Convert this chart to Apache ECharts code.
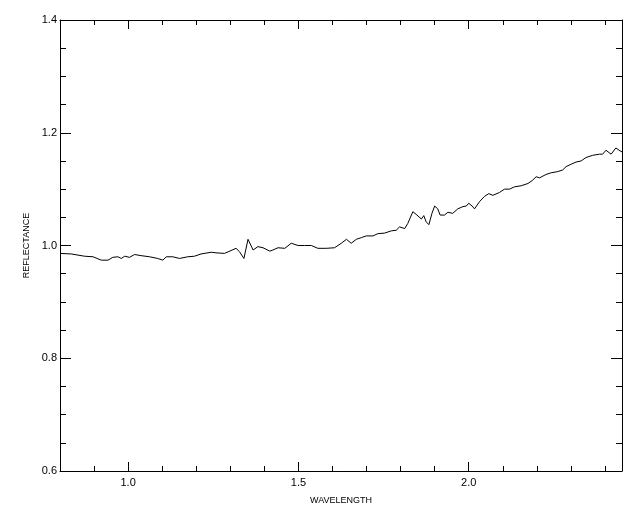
<!DOCTYPE html>
<html>
<head>
<meta charset="utf-8">
<script src="https://cdn.jsdelivr.net/npm/echarts@6/dist/echarts.min.js"></script>
<style>html,body{margin:0;padding:0;background:#fff}#c{width:640px;height:512px}</style>
</head>
<body>
<div id="c"></div>
<script>
var wavelength = [0.80,0.804,0.833,0.872,0.897,0.921,0.941,0.955,0.970,0.980,0.990,1.004,1.019,1.038,1.063,1.087,1.102,1.112,1.131,1.151,1.175,1.195,1.214,1.244,1.258,1.283,1.302,1.317,1.327,1.340,1.352,1.367,1.381,1.396,1.416,1.425,1.440,1.460,1.479,1.499,1.518,1.538,1.557,1.582,1.606,1.626,1.641,1.655,1.670,1.685,1.699,1.719,1.733,1.753,1.773,1.787,1.797,1.812,1.821,1.836,1.848,1.861,1.868,1.875,1.883,1.892,1.900,1.909,1.916,1.929,1.939,1.953,1.968,1.983,1.993,2.000,2.010,2.017,2.032,2.046,2.059,2.071,2.090,2.105,2.120,2.134,2.154,2.174,2.188,2.198,2.208,2.227,2.242,2.261,2.276,2.286,2.300,2.315,2.330,2.344,2.364,2.384,2.393,2.403,2.418,2.432,2.444,2.45];
var reflectance = [0.986,0.986,0.985,0.981,0.980,0.974,0.974,0.979,0.980,0.977,0.981,0.979,0.984,0.982,0.980,0.977,0.974,0.980,0.980,0.977,0.980,0.981,0.985,0.988,0.987,0.986,0.991,0.995,0.989,0.977,1.011,0.992,0.998,0.996,0.990,0.992,0.996,0.995,1.004,1.000,1.000,1.000,0.995,0.995,0.996,1.004,1.011,1.004,1.011,1.014,1.017,1.017,1.021,1.022,1.026,1.027,1.033,1.030,1.039,1.060,1.054,1.047,1.053,1.042,1.037,1.057,1.070,1.065,1.054,1.054,1.059,1.057,1.065,1.069,1.070,1.075,1.070,1.065,1.078,1.087,1.092,1.089,1.094,1.100,1.100,1.104,1.106,1.110,1.116,1.122,1.120,1.126,1.129,1.131,1.134,1.140,1.144,1.148,1.150,1.156,1.160,1.162,1.162,1.169,1.162,1.173,1.168,1.166];
var xMajorTicks = [1.0, 1.5, 2.0];
var xMinorTicks = [0.9, 1.1, 1.2, 1.3, 1.4, 1.6, 1.7, 1.8, 1.9, 2.1, 2.2, 2.3, 2.4];
var yMajorTicks = [0.6, 0.8, 1.0, 1.2, 1.4];
var yMinorTicks = [0.65,0.7,0.75,0.85,0.9,0.95,1.05,1.1,1.15,1.25,1.3,1.35];

var FONT = '"Liberation Sans", Arial, sans-serif';
var lineSt = {color:'#000', width:1};
function xAx(pos, ticks, len, labels, showLine, name) {
  return {
    type:'value', position:pos, min:0.8, max:2.45,
    axisLine:{show:showLine, lineStyle:lineSt},
    axisTick:{show:true, inside:true, length:len, customValues:ticks, lineStyle:lineSt},
    axisLabel: labels ? {show:true, customValues:ticks, formatter:function(v){return v.toFixed(1);}, color:'#000', fontSize:11, fontFamily:FONT, margin:6} : {show:false},
    splitLine:{show:false},
    name: name || '', nameLocation:'middle', nameGap:25,
    nameTextStyle:{color:'#000', fontSize:9, fontFamily:FONT}
  };
}
function yAx(pos, ticks, len, labels, showLine, name) {
  return {
    type:'value', position:pos, min:0.6, max:1.4,
    axisLine:{show:showLine, lineStyle:lineSt},
    axisTick:{show:true, inside:true, length:len, customValues:ticks, lineStyle:lineSt},
    axisLabel: labels ? {show:true, customValues:ticks, formatter:function(v){return v.toFixed(1);}, color:'#000', fontSize:11, fontFamily:FONT, margin:3} : {show:false},
    splitLine:{show:false},
    name: name || '', nameLocation:'middle', nameGap:24, nameRotate:90,
    nameTextStyle:{color:'#000', fontSize:9, fontFamily:FONT}
  };
}
var data = wavelength.map(function(w,i){return [w, reflectance[i]];});
var chart = echarts.init(document.getElementById('c'), null, {renderer:'canvas'});
chart.setOption({
  animation:false,
  backgroundColor:'#fff',
  grid:{left:60, right:18, top:20, bottom:41, containLabel:false},
  xAxis:[
    xAx('bottom', xMajorTicks, 9, true, true, 'WAVELENGTH'),
    xAx('bottom', xMinorTicks, 5, false, false),
    xAx('top', xMajorTicks, 9, false, true),
    xAx('top', xMinorTicks, 5, false, false)
  ],
  yAxis:[
    yAx('left', yMajorTicks, 11, true, true, 'REFLECTANCE'),
    yAx('left', yMinorTicks, 6, false, false),
    yAx('right', yMajorTicks, 11, false, true),
    yAx('right', yMinorTicks, 6, false, false)
  ],
  series:[{
    type:'line', xAxisIndex:0, yAxisIndex:0, data:data,
    showSymbol:false, symbol:'none',
    lineStyle:{color:'#000', width:1}
  }]
});
</script>
</body>
</html>
